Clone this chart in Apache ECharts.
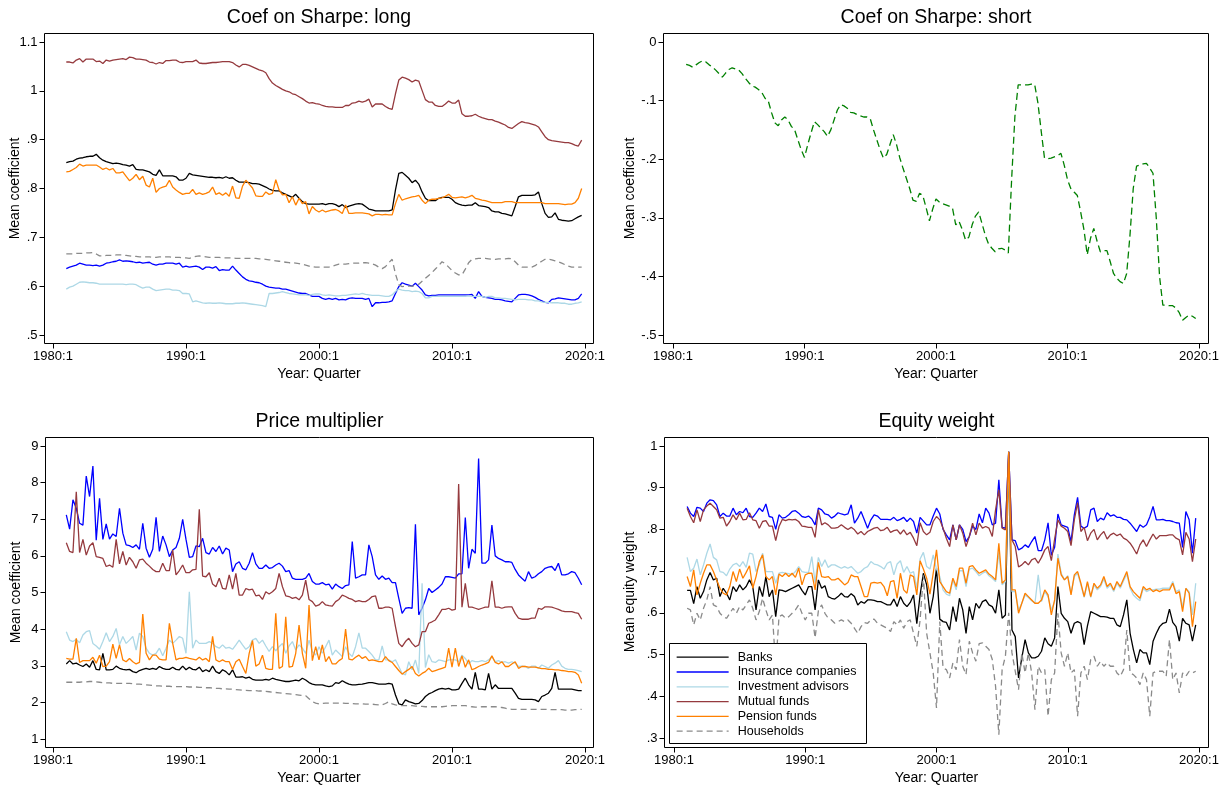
<!DOCTYPE html>
<html><head><meta charset="utf-8">
<script src="https://cdn.jsdelivr.net/npm/echarts@6/dist/echarts.min.js"></script>
<style>html,body{margin:0;padding:0;background:#fff}#c{width:1228px;height:787px}</style>
</head><body><div id="c"></div><script>
// ---------- categories ----------
const quarters = [];
for (let y = 1981; y <= 2019; y++) for (let q = 1; q <= 4; q++) quarters.push(y + (q - 1) / 4);
const xTickYears = [1980, 1990, 2000, 2010, 2020];
const seriesNames = ['Banks', 'Insurance companies', 'Investment advisors', 'Mutual funds', 'Pension funds', 'Households'];
const seriesColors = ['#000000', '#0000ff', '#add8e6', '#953a3e', '#ff8000', '#8a8a8a'];
const panelTitles = ['Coef on Sharpe: long', 'Coef on Sharpe: short', 'Price multiplier', 'Equity weight'];

// ---------- Coef on Sharpe: long ----------
const longBanks = [0.853,0.855,0.856,0.860,0.862,0.863,0.865,0.866,0.866,0.870,0.863,0.858,0.855,0.853,0.851,0.852,0.851,0.849,0.848,0.846,0.849,0.839,0.838,0.838,0.836,0.834,0.829,0.827,0.838,0.826,0.826,0.826,0.826,0.824,0.817,0.817,0.821,0.831,0.828,0.827,0.826,0.825,0.824,0.823,0.823,0.822,0.823,0.821,0.824,0.821,0.822,0.817,0.813,0.813,0.813,0.812,0.810,0.810,0.809,0.806,0.803,0.799,0.796,0.795,0.795,0.791,0.788,0.785,0.782,0.788,0.780,0.773,0.769,0.768,0.768,0.768,
0.768,0.769,0.767,0.769,0.769,0.767,0.763,0.767,0.761,0.764,0.766,0.768,0.769,0.768,0.763,0.758,0.756,0.754,0.754,0.754,0.754,0.754,0.756,0.797,0.831,0.833,0.827,0.821,0.812,0.817,0.809,0.793,0.780,0.775,0.775,0.775,0.780,0.782,0.782,0.782,0.778,0.771,0.768,0.766,0.765,0.766,0.766,0.771,0.765,0.764,0.763,0.761,0.754,0.752,0.752,0.749,0.748,0.746,0.744,0.763,0.783,0.786,0.786,0.786,0.786,0.787,0.793,0.769,0.749,0.741,0.742,0.750,0.737,0.735,0.734,0.733,0.734,0.738,0.742,0.745];
const longInsurance = [0.636,0.639,0.641,0.643,0.647,0.645,0.643,0.643,0.642,0.643,0.641,0.643,0.647,0.648,0.650,0.651,0.654,0.651,0.652,0.651,0.650,0.648,0.649,0.647,0.648,0.649,0.645,0.643,0.645,0.645,0.647,0.647,0.647,0.645,0.647,0.639,0.641,0.639,0.640,0.641,0.639,0.634,0.639,0.639,0.637,0.640,0.632,0.634,0.633,0.633,0.641,0.633,0.626,0.619,0.614,0.611,0.610,0.608,0.607,0.604,0.600,0.598,0.597,0.596,0.596,0.594,0.594,0.592,0.590,0.588,0.586,0.585,0.585,0.582,0.579,0.579,
0.579,0.575,0.573,0.575,0.573,0.575,0.572,0.573,0.572,0.575,0.576,0.575,0.575,0.575,0.573,0.575,0.558,0.566,0.566,0.567,0.567,0.568,0.570,0.585,0.599,0.607,0.604,0.602,0.600,0.606,0.599,0.592,0.582,0.580,0.581,0.581,0.582,0.582,0.582,0.582,0.582,0.582,0.582,0.582,0.582,0.582,0.583,0.575,0.589,0.579,0.577,0.576,0.575,0.573,0.573,0.572,0.570,0.569,0.568,0.575,0.582,0.583,0.583,0.582,0.580,0.577,0.573,0.570,0.567,0.566,0.573,0.574,0.576,0.575,0.574,0.573,0.572,0.572,0.575,0.584];
const longAdvisors = [0.594,0.598,0.600,0.604,0.608,0.609,0.608,0.607,0.607,0.606,0.604,0.604,0.604,0.604,0.604,0.604,0.604,0.604,0.603,0.604,0.604,0.603,0.599,0.596,0.598,0.598,0.594,0.591,0.592,0.593,0.594,0.594,0.592,0.592,0.591,0.585,0.585,0.584,0.568,0.570,0.568,0.566,0.565,0.566,0.565,0.565,0.566,0.565,0.564,0.564,0.564,0.565,0.565,0.566,0.565,0.564,0.563,0.562,0.561,0.560,0.558,0.585,0.585,0.586,0.587,0.589,0.587,0.585,0.584,0.583,0.582,0.582,0.582,0.581,0.583,0.584,
0.584,0.582,0.581,0.582,0.581,0.580,0.580,0.581,0.581,0.582,0.583,0.584,0.583,0.585,0.583,0.582,0.581,0.581,0.581,0.580,0.579,0.579,0.582,0.589,0.594,0.592,0.591,0.591,0.589,0.590,0.589,0.585,0.576,0.576,0.579,0.579,0.579,0.579,0.579,0.579,0.579,0.579,0.579,0.579,0.579,0.580,0.579,0.579,0.579,0.579,0.577,0.579,0.579,0.576,0.576,0.575,0.575,0.574,0.573,0.572,0.573,0.573,0.573,0.572,0.572,0.570,0.570,0.568,0.567,0.567,0.566,0.566,0.566,0.565,0.565,0.563,0.563,0.565,0.566,0.568];
const longMutual = [1.059,1.059,1.057,1.063,1.066,1.059,1.065,1.065,1.065,1.060,1.061,1.056,1.063,1.061,1.063,1.064,1.065,1.066,1.064,1.069,1.068,1.065,1.065,1.064,1.063,1.059,1.058,1.055,1.058,1.056,1.062,1.062,1.063,1.063,1.059,1.058,1.060,1.060,1.060,1.063,1.057,1.056,1.056,1.057,1.058,1.058,1.059,1.060,1.060,1.060,1.058,1.053,1.049,1.054,1.054,1.052,1.049,1.046,1.043,1.041,1.037,1.025,1.016,1.011,1.007,1.003,1.000,0.998,0.994,0.992,0.988,0.984,0.979,0.975,0.976,0.974,
0.973,0.970,0.968,0.967,0.967,0.966,0.966,0.966,0.970,0.970,0.975,0.976,0.979,0.977,0.979,0.983,0.967,0.973,0.973,0.973,0.968,0.964,0.962,0.994,1.022,1.028,1.026,1.023,1.018,1.022,1.020,1.001,0.982,0.977,0.977,0.970,0.968,0.968,0.973,0.979,0.975,0.975,0.981,0.953,0.948,0.948,0.949,0.952,0.948,0.945,0.943,0.941,0.941,0.938,0.936,0.933,0.930,0.925,0.923,0.928,0.933,0.937,0.935,0.934,0.932,0.930,0.926,0.916,0.906,0.900,0.898,0.897,0.896,0.895,0.894,0.894,0.892,0.889,0.887,0.899];
const longPension = [0.834,0.835,0.839,0.843,0.850,0.846,0.848,0.848,0.848,0.848,0.844,0.839,0.842,0.838,0.841,0.832,0.832,0.834,0.825,0.816,0.821,0.829,0.818,0.825,0.807,0.803,0.821,0.792,0.800,0.803,0.805,0.817,0.803,0.797,0.792,0.788,0.790,0.790,0.798,0.788,0.791,0.788,0.790,0.793,0.803,0.788,0.791,0.786,0.791,0.784,0.805,0.781,0.780,0.805,0.817,0.809,0.801,0.785,0.784,0.784,0.793,0.788,0.790,0.818,0.797,0.787,0.788,0.771,0.783,0.766,0.780,0.769,0.773,0.748,0.763,0.756,
0.752,0.756,0.752,0.754,0.756,0.757,0.754,0.749,0.766,0.749,0.749,0.750,0.750,0.750,0.749,0.748,0.744,0.747,0.747,0.746,0.747,0.746,0.746,0.769,0.788,0.776,0.779,0.781,0.783,0.784,0.786,0.776,0.769,0.776,0.778,0.778,0.780,0.781,0.784,0.788,0.782,0.781,0.782,0.783,0.781,0.783,0.786,0.780,0.778,0.776,0.775,0.773,0.771,0.771,0.771,0.771,0.773,0.773,0.773,0.771,0.771,0.771,0.771,0.771,0.771,0.771,0.771,0.771,0.769,0.769,0.769,0.769,0.769,0.768,0.767,0.768,0.768,0.771,0.780,0.800];
const longHouseholds = [0.666,0.666,0.666,0.667,0.667,0.667,0.668,0.668,0.669,0.666,0.662,0.662,0.663,0.663,0.663,0.664,0.664,0.664,0.663,0.662,0.661,0.661,0.660,0.660,0.660,0.660,0.659,0.659,0.660,0.660,0.660,0.660,0.659,0.659,0.659,0.658,0.658,0.657,0.659,0.661,0.662,0.661,0.660,0.659,0.659,0.659,0.659,0.658,0.658,0.658,0.658,0.657,0.657,0.657,0.657,0.657,0.657,0.657,0.656,0.656,0.655,0.654,0.653,0.652,0.651,0.650,0.649,0.648,0.648,0.647,0.646,0.645,0.643,0.641,0.640,0.639,
0.639,0.639,0.639,0.639,0.641,0.643,0.645,0.645,0.645,0.646,0.647,0.647,0.647,0.648,0.648,0.647,0.646,0.643,0.639,0.636,0.640,0.648,0.655,0.625,0.603,0.599,0.600,0.600,0.600,0.601,0.604,0.610,0.616,0.622,0.628,0.635,0.642,0.650,0.646,0.639,0.632,0.627,0.623,0.623,0.635,0.648,0.655,0.656,0.657,0.657,0.657,0.656,0.655,0.655,0.656,0.656,0.656,0.657,0.656,0.650,0.643,0.639,0.639,0.639,0.639,0.642,0.647,0.651,0.655,0.655,0.654,0.652,0.650,0.647,0.644,0.641,0.639,0.639,0.639,0.639];

// ---------- Coef on Sharpe: short ----------
const shortCoef = [-0.038,-0.040,-0.043,-0.039,-0.035,-0.032,-0.034,-0.039,-0.043,-0.048,-0.054,-0.060,-0.053,-0.047,-0.044,-0.046,-0.048,-0.054,-0.062,-0.069,-0.075,-0.077,-0.081,-0.086,-0.096,-0.101,-0.121,-0.138,-0.143,-0.133,-0.128,-0.133,-0.144,-0.150,-0.167,-0.184,-0.197,-0.175,-0.155,-0.136,-0.141,-0.147,-0.153,-0.161,-0.150,-0.133,-0.116,-0.107,-0.109,-0.113,-0.120,-0.121,-0.124,-0.126,-0.128,-0.128,-0.131,-0.150,-0.167,-0.184,-0.198,-0.192,-0.175,-0.158,-0.175,-0.198,-0.216,-0.233,-0.250,-0.270,-0.272,-0.258,-0.262,-0.283,-0.305,-0.285,
-0.268,-0.273,-0.276,-0.278,-0.280,-0.283,-0.312,-0.306,-0.320,-0.338,-0.333,-0.312,-0.297,-0.290,-0.310,-0.330,-0.345,-0.352,-0.358,-0.353,-0.352,-0.355,-0.360,-0.235,-0.127,-0.073,-0.073,-0.073,-0.073,-0.072,-0.072,-0.104,-0.152,-0.198,-0.199,-0.198,-0.196,-0.194,-0.190,-0.210,-0.235,-0.250,-0.256,-0.262,-0.290,-0.320,-0.363,-0.335,-0.318,-0.340,-0.358,-0.356,-0.356,-0.375,-0.395,-0.403,-0.409,-0.412,-0.395,-0.330,-0.250,-0.212,-0.210,-0.208,-0.207,-0.215,-0.224,-0.300,-0.400,-0.449,-0.449,-0.450,-0.450,-0.454,-0.462,-0.475,-0.470,-0.466,-0.468,-0.472];

// ---------- Price multiplier ----------
const priceBanks = [3.05,3.14,3.05,3.07,3.02,2.98,3.05,2.96,3.14,2.90,2.89,3.34,2.89,2.89,2.90,2.99,2.93,2.90,2.89,2.90,2.84,2.81,2.87,2.90,2.93,2.90,2.93,2.90,2.98,2.93,2.90,2.90,2.96,2.90,2.89,2.99,2.89,2.96,2.90,2.89,2.96,2.84,2.89,2.84,2.99,2.84,2.79,2.89,2.84,2.75,2.89,2.69,2.69,2.70,2.66,2.69,2.63,2.61,2.61,2.61,2.63,2.61,2.66,2.63,2.61,2.59,2.57,2.57,2.59,2.61,2.59,2.66,2.61,2.54,2.50,2.48,
2.48,2.48,2.45,2.43,2.45,2.54,2.52,2.59,2.54,2.50,2.48,2.48,2.49,2.50,2.52,2.54,2.54,2.52,2.50,2.50,2.50,2.52,2.50,2.20,1.96,1.93,2.07,2.02,1.99,1.96,1.97,2.05,2.16,2.23,2.27,2.32,2.36,2.38,2.36,2.38,2.34,2.34,2.36,2.52,2.66,2.48,2.36,2.82,2.36,2.36,2.34,2.79,2.36,2.48,2.38,2.38,2.38,2.38,2.38,2.25,2.11,2.08,2.08,2.08,2.08,2.07,2.02,2.16,2.20,2.25,2.38,2.82,2.36,2.36,2.36,2.36,2.36,2.34,2.32,2.32];
const priceInsurance = [7.12,6.73,7.53,7.30,6.89,6.84,8.18,7.62,8.45,6.43,7.57,6.45,6.87,6.46,6.60,6.53,7.30,6.62,6.30,6.28,6.23,6.30,6.18,6.89,6.21,5.96,6.18,7.05,6.12,6.54,6.30,5.98,6.16,6.23,6.48,7.00,6.45,5.96,5.98,6.27,6.25,6.48,6.09,6.05,6.23,6.12,6.27,6.05,6.21,6.16,5.57,5.78,5.84,5.66,5.62,5.80,6.09,5.78,5.66,5.66,5.75,5.66,5.68,5.75,5.80,5.72,5.57,5.60,5.39,5.36,5.36,5.36,5.39,5.52,5.30,5.23,
5.23,5.27,5.21,5.23,5.09,5.23,5.16,5.11,5.19,5.21,6.39,5.39,5.43,5.48,5.48,6.30,5.98,5.48,5.36,5.45,5.36,5.39,5.27,5.27,4.84,4.43,4.57,4.59,4.57,6.86,4.39,4.57,4.80,5.11,5.00,5.07,5.14,5.23,5.43,5.43,5.41,5.39,5.51,5.51,7.05,5.66,6.18,6.07,8.66,5.80,5.80,5.89,6.84,6.00,5.93,5.89,5.84,5.84,5.82,5.63,5.48,5.39,5.31,5.57,5.39,5.43,5.51,5.57,5.66,5.69,5.71,5.60,5.80,5.48,5.48,5.51,5.57,5.54,5.39,5.21];
const priceAdvisors = [3.93,3.70,3.66,3.72,3.63,3.84,3.93,3.96,3.61,3.54,3.45,3.66,3.90,3.66,3.80,4.02,3.57,3.80,3.61,3.70,3.80,3.43,3.89,3.80,3.48,3.34,3.29,3.34,3.48,3.27,3.48,3.70,3.61,3.70,3.80,3.75,3.34,5.02,3.48,3.70,3.61,3.61,3.61,3.66,3.61,3.52,3.48,3.57,3.48,3.50,3.45,3.57,3.70,3.57,3.45,3.52,3.70,3.75,3.61,3.70,3.54,3.39,3.52,3.41,3.52,3.61,3.34,3.54,3.66,3.43,3.57,3.48,3.34,3.70,3.39,3.29,
3.52,3.34,3.52,3.70,3.29,3.43,3.34,3.25,3.52,3.34,3.25,3.52,3.90,3.48,3.48,3.39,3.29,3.16,3.16,3.54,3.16,3.16,3.11,3.16,2.98,2.79,2.75,3.11,2.89,3.16,2.79,5.25,2.95,3.30,3.11,3.09,3.16,3.14,3.11,3.16,3.16,3.16,3.11,3.29,3.20,3.05,3.14,3.11,3.11,3.14,3.11,3.16,3.25,3.11,3.14,3.09,3.11,3.07,3.11,3.07,2.98,2.99,2.98,2.93,2.99,2.99,2.93,3.02,2.98,2.93,3.02,3.07,3.14,2.99,2.93,2.90,2.90,2.89,2.87,2.84];
const priceMutual = [6.36,6.12,6.09,7.75,6.09,6.45,6.02,6.27,6.36,5.98,5.96,5.93,5.71,5.75,5.69,6.45,5.78,6.12,5.75,5.96,5.84,5.66,5.89,5.91,5.80,5.72,5.63,5.57,5.57,5.80,5.60,5.60,6.16,5.48,5.60,5.75,5.54,5.54,5.62,5.63,7.27,5.45,5.43,5.54,5.23,5.16,5.39,5.11,5.09,5.48,5.09,5.52,4.93,4.93,5.11,5.07,5.09,4.91,4.93,4.81,5.02,4.96,5.02,5.11,5.52,5.16,4.91,4.89,4.84,4.87,4.80,4.93,5.34,4.81,4.75,4.63,
4.66,4.75,4.66,4.64,4.63,4.75,4.81,4.93,4.89,4.84,4.81,4.75,4.78,4.75,4.75,4.81,4.89,4.91,4.57,4.57,4.60,4.60,4.57,4.07,3.61,3.52,3.66,3.75,3.61,3.52,3.57,3.93,3.93,4.16,4.20,4.25,4.39,4.54,4.54,4.57,4.52,4.54,7.96,4.60,5.25,4.60,4.60,4.57,4.54,4.57,4.60,4.60,5.32,4.60,4.60,4.57,4.60,4.61,4.61,4.43,4.30,4.27,4.27,4.27,4.30,4.30,4.57,4.54,4.61,4.61,4.60,4.57,4.54,4.50,4.48,4.48,4.48,4.45,4.43,4.27];
const pricePension = [3.20,3.18,3.18,3.75,3.09,3.14,3.14,3.14,3.23,3.07,3.29,2.98,2.99,3.11,3.59,3.20,3.57,3.16,3.11,3.20,3.11,3.05,3.09,4.41,3.34,3.16,3.29,3.29,3.18,3.16,3.16,4.16,3.61,3.16,3.20,3.20,3.23,3.20,3.18,3.16,3.23,3.16,3.20,3.11,3.80,3.16,3.11,3.16,3.11,3.11,2.90,3.11,3.18,2.98,2.79,3.34,3.69,2.99,3.05,3.29,2.93,2.90,2.90,4.43,2.93,2.98,4.34,2.96,2.98,3.34,4.11,3.34,2.93,4.66,3.14,3.52,
3.16,3.57,3.11,3.25,3.05,3.05,3.14,3.20,4.00,3.18,3.16,3.23,3.29,3.20,3.25,3.14,3.16,3.14,3.11,3.11,3.25,3.14,3.09,2.98,2.87,2.77,2.84,2.90,2.98,2.79,2.72,2.79,2.84,2.93,2.84,2.87,2.90,2.93,2.96,3.48,2.96,3.48,2.98,3.27,2.96,3.16,2.89,2.93,2.98,3.02,3.05,3.09,3.27,3.09,3.05,3.11,2.98,2.98,3.05,3.11,2.93,2.98,2.98,2.96,2.96,2.96,2.94,2.92,2.92,2.90,2.90,2.89,2.89,2.87,2.86,2.84,2.84,2.82,2.75,2.52];
const priceHouseholds = [2.55,2.55,2.55,2.55,2.55,2.56,2.56,2.57,2.57,2.56,2.55,2.54,2.53,2.53,2.52,2.52,2.52,2.52,2.52,2.52,2.51,2.50,2.50,2.49,2.48,2.47,2.46,2.45,2.45,2.44,2.44,2.44,2.43,2.43,2.43,2.43,2.43,2.42,2.42,2.42,2.41,2.41,2.40,2.40,2.39,2.38,2.38,2.37,2.37,2.36,2.36,2.35,2.34,2.33,2.33,2.32,2.32,2.32,2.31,2.31,2.30,2.29,2.28,2.27,2.26,2.25,2.24,2.23,2.22,2.21,2.20,2.19,2.18,2.10,2.02,1.98,
1.96,1.97,1.98,1.98,1.98,1.98,1.98,1.98,1.97,1.97,1.97,1.96,1.96,1.96,1.95,1.95,1.95,1.94,1.93,1.93,1.97,2.02,1.96,1.93,1.92,1.91,1.91,1.91,1.91,1.90,1.90,1.89,1.88,1.88,1.88,1.88,1.88,1.88,1.89,1.90,1.91,1.91,1.91,1.91,1.91,1.90,1.88,1.87,1.87,1.88,1.88,1.88,1.88,1.88,1.87,1.86,1.84,1.82,1.81,1.81,1.81,1.81,1.81,1.81,1.81,1.81,1.81,1.81,1.81,1.81,1.80,1.80,1.80,1.80,1.79,1.79,1.79,1.80,1.80,1.81];

// ---------- Equity weight ----------
const equityBanks = [0.654,0.654,0.622,0.663,0.635,0.651,0.679,0.697,0.679,0.683,0.639,0.659,0.647,0.631,0.663,0.651,0.667,0.655,0.663,0.679,0.663,0.607,0.663,0.639,0.687,0.639,0.655,0.591,0.655,0.654,0.651,0.655,0.659,0.663,0.667,0.654,0.643,0.663,0.663,0.607,0.679,0.659,0.665,0.639,0.635,0.633,0.639,0.647,0.639,0.638,0.646,0.639,0.619,0.627,0.623,0.631,0.631,0.630,0.627,0.627,0.623,0.619,0.619,0.633,0.615,0.639,0.623,0.615,0.625,0.643,0.574,0.643,0.695,0.667,0.599,0.639,
0.707,0.585,0.579,0.577,0.559,0.615,0.579,0.635,0.607,0.551,0.615,0.583,0.623,0.611,0.627,0.631,0.619,0.615,0.599,0.655,0.587,0.595,0.986,0.559,0.543,0.444,0.492,0.536,0.504,0.492,0.492,0.496,0.508,0.540,0.526,0.520,0.540,0.663,0.599,0.587,0.579,0.551,0.575,0.579,0.575,0.524,0.569,0.603,0.599,0.595,0.591,0.591,0.590,0.587,0.587,0.571,0.567,0.595,0.631,0.551,0.512,0.480,0.512,0.504,0.504,0.476,0.532,0.551,0.567,0.575,0.577,0.609,0.577,0.567,0.532,0.587,0.575,0.571,0.532,0.571];
const equityInsurance = [0.855,0.839,0.831,0.853,0.851,0.843,0.863,0.871,0.869,0.859,0.831,0.839,0.832,0.832,0.851,0.835,0.843,0.840,0.851,0.831,0.829,0.839,0.851,0.843,0.861,0.831,0.829,0.800,0.835,0.827,0.829,0.835,0.843,0.845,0.839,0.831,0.829,0.832,0.825,0.811,0.851,0.847,0.837,0.835,0.827,0.832,0.840,0.837,0.835,0.837,0.859,0.815,0.827,0.843,0.823,0.803,0.823,0.835,0.832,0.824,0.824,0.824,0.823,0.829,0.821,0.824,0.829,0.819,0.827,0.819,0.791,0.829,0.820,0.811,0.811,0.832,
0.851,0.837,0.800,0.787,0.775,0.811,0.775,0.811,0.800,0.771,0.783,0.808,0.800,0.837,0.816,0.851,0.839,0.811,0.815,0.919,0.805,0.803,0.986,0.775,0.773,0.751,0.755,0.763,0.757,0.771,0.783,0.749,0.749,0.775,0.816,0.738,0.757,0.837,0.811,0.808,0.805,0.771,0.835,0.877,0.808,0.803,0.808,0.847,0.851,0.819,0.827,0.823,0.840,0.832,0.835,0.829,0.829,0.824,0.823,0.815,0.805,0.795,0.811,0.805,0.811,0.830,0.855,0.823,0.823,0.824,0.821,0.821,0.819,0.816,0.815,0.757,0.843,0.823,0.743,0.827];
const equityAdvisors = [0.733,0.699,0.707,0.729,0.691,0.715,0.743,0.765,0.733,0.727,0.699,0.697,0.689,0.705,0.715,0.719,0.711,0.723,0.709,0.743,0.741,0.699,0.715,0.743,0.699,0.699,0.699,0.671,0.695,0.697,0.695,0.694,0.691,0.699,0.711,0.699,0.697,0.697,0.735,0.673,0.733,0.711,0.727,0.709,0.715,0.715,0.711,0.707,0.711,0.707,0.711,0.703,0.695,0.699,0.707,0.711,0.723,0.717,0.715,0.711,0.705,0.719,0.723,0.691,0.717,0.725,0.697,0.711,0.695,0.699,0.659,0.729,0.745,0.711,0.705,0.739,
0.705,0.687,0.655,0.645,0.641,0.679,0.655,0.701,0.701,0.663,0.705,0.707,0.699,0.689,0.695,0.699,0.689,0.683,0.675,0.745,0.667,0.675,0.970,0.651,0.651,0.607,0.623,0.643,0.637,0.629,0.623,0.691,0.627,0.651,0.639,0.607,0.627,0.741,0.695,0.679,0.689,0.647,0.687,0.695,0.667,0.637,0.671,0.637,0.667,0.655,0.663,0.681,0.659,0.667,0.651,0.671,0.659,0.677,0.693,0.659,0.643,0.635,0.629,0.659,0.651,0.655,0.655,0.657,0.657,0.659,0.659,0.659,0.675,0.651,0.655,0.613,0.659,0.651,0.595,0.671];
const equityMutual = [0.851,0.831,0.816,0.847,0.819,0.847,0.856,0.863,0.855,0.847,0.827,0.829,0.808,0.819,0.835,0.823,0.839,0.823,0.824,0.840,0.823,0.821,0.803,0.819,0.821,0.808,0.808,0.773,0.807,0.824,0.821,0.824,0.823,0.824,0.819,0.808,0.807,0.805,0.805,0.781,0.847,0.811,0.816,0.811,0.803,0.803,0.805,0.811,0.805,0.800,0.805,0.799,0.789,0.795,0.787,0.795,0.799,0.803,0.805,0.797,0.799,0.805,0.793,0.797,0.799,0.789,0.799,0.787,0.793,0.779,0.761,0.816,0.795,0.787,0.793,0.819,
0.831,0.823,0.803,0.779,0.759,0.811,0.775,0.811,0.791,0.759,0.783,0.815,0.787,0.815,0.803,0.807,0.803,0.783,0.847,0.895,0.803,0.799,0.986,0.775,0.759,0.710,0.715,0.723,0.715,0.727,0.731,0.719,0.733,0.751,0.759,0.725,0.777,0.823,0.808,0.803,0.795,0.761,0.823,0.864,0.795,0.805,0.773,0.791,0.800,0.775,0.787,0.795,0.777,0.787,0.791,0.785,0.789,0.779,0.775,0.767,0.755,0.741,0.763,0.775,0.759,0.775,0.789,0.777,0.785,0.785,0.785,0.787,0.787,0.779,0.775,0.739,0.793,0.777,0.723,0.777];
const equityPension = [0.687,0.663,0.703,0.643,0.671,0.695,0.715,0.715,0.699,0.679,0.659,0.647,0.643,0.663,0.699,0.675,0.705,0.683,0.697,0.713,0.659,0.687,0.723,0.739,0.687,0.679,0.687,0.643,0.693,0.687,0.695,0.687,0.695,0.685,0.707,0.667,0.691,0.695,0.695,0.655,0.721,0.687,0.685,0.687,0.679,0.679,0.683,0.675,0.667,0.673,0.691,0.687,0.687,0.663,0.639,0.639,0.671,0.673,0.671,0.673,0.663,0.641,0.675,0.677,0.635,0.695,0.655,0.647,0.691,0.687,0.643,0.725,0.705,0.683,0.645,0.695,
0.751,0.675,0.663,0.651,0.647,0.683,0.663,0.707,0.707,0.671,0.711,0.713,0.703,0.695,0.699,0.703,0.693,0.687,0.679,0.767,0.671,0.679,0.986,0.655,0.655,0.599,0.623,0.647,0.639,0.631,0.623,0.623,0.631,0.655,0.643,0.595,0.631,0.731,0.691,0.679,0.687,0.643,0.691,0.699,0.671,0.639,0.675,0.639,0.671,0.659,0.667,0.687,0.663,0.671,0.655,0.675,0.663,0.681,0.699,0.663,0.651,0.643,0.635,0.663,0.655,0.659,0.651,0.655,0.651,0.655,0.655,0.655,0.671,0.646,0.651,0.603,0.659,0.647,0.567,0.627];
const equityHouseholds = [0.611,0.607,0.571,0.599,0.583,0.611,0.631,0.663,0.619,0.615,0.599,0.591,0.587,0.599,0.611,0.599,0.615,0.607,0.619,0.631,0.611,0.583,0.603,0.635,0.607,0.583,0.595,0.470,0.591,0.595,0.587,0.591,0.599,0.607,0.619,0.599,0.583,0.599,0.599,0.540,0.605,0.619,0.599,0.587,0.583,0.575,0.579,0.583,0.579,0.583,0.575,0.563,0.551,0.567,0.577,0.575,0.583,0.585,0.575,0.571,0.567,0.563,0.555,0.579,0.571,0.583,0.563,0.579,0.583,0.551,0.520,0.583,0.690,0.551,0.504,0.456,
0.372,0.579,0.468,0.464,0.444,0.480,0.464,0.536,0.472,0.452,0.532,0.504,0.484,0.526,0.528,0.520,0.512,0.488,0.424,0.308,0.464,0.496,0.600,0.504,0.460,0.416,0.504,0.456,0.504,0.456,0.368,0.472,0.456,0.464,0.352,0.440,0.456,0.599,0.504,0.472,0.504,0.456,0.464,0.352,0.456,0.472,0.440,0.488,0.496,0.472,0.484,0.472,0.480,0.472,0.472,0.456,0.448,0.464,0.559,0.456,0.452,0.444,0.428,0.456,0.440,0.352,0.456,0.460,0.460,0.460,0.448,0.536,0.440,0.456,0.408,0.456,0.448,0.460,0.456,0.460];

// ---------- layout ----------
const FONT = '"Liberation Sans", Arial, Helvetica, sans-serif';
const panels = [
  { frame: [44.5, 33.5, 593.5, 343.5], grid: { left: 53, top: 42, width: 532, height: 293 }, y: { min: 0.5, max: 1.1, interval: 0.1 }, yName: 'Mean coefficient', yGap: 22, titleY: 18,
    lines: [longBanks, longInsurance, longAdvisors, longMutual, longPension, longHouseholds] },
  { frame: [663.5, 33.5, 1208.5, 343.5], grid: { left: 673, top: 42, width: 526, height: 293 }, y: { min: -0.5, max: 0, interval: 0.1 }, yName: 'Mean coefficient', yGap: 26, titleY: 18,
    lines: null },
  { frame: [45.5, 437.5, 593.5, 747.5], grid: { left: 53, top: 446, width: 532, height: 293 }, y: { min: 1, max: 9, interval: 1 }, yName: 'Mean coefficient', yGap: 22, titleY: 422,
    lines: [priceBanks, priceInsurance, priceAdvisors, priceMutual, pricePension, priceHouseholds] },
  { frame: [664.5, 437.5, 1208.5, 747.5], grid: { left: 674, top: 446, width: 525, height: 292 }, y: { min: 0.3, max: 1, interval: 0.1 }, yName: 'Mean equity weight', yGap: 27, titleY: 422,
    lines: [equityBanks, equityInsurance, equityAdvisors, equityMutual, equityPension, equityHouseholds] }
];

function stataNum(v) {
  const r = Math.round(v * 1000) / 1000;
  return String(r).replace(/^0\./, '.').replace(/^-0\./, '-.');
}
function pairs(values) {
  return values.slice(0, quarters.length).map((v, i) => [quarters[i], v]);
}

const grids = [], xAxes = [], yAxes = [], series = [], graphics = [];
panels.forEach((p, i) => {
  grids.push(Object.assign({ containLabel: false }, p.grid));
  const gBottom = p.grid.top + p.grid.height;
  xAxes.push({
    type: 'value', gridIndex: i, min: 1980, max: 2020, interval: 10, position: 'bottom',
    offset: p.frame[3] - gBottom,
    axisLine: { show: false, onZero: false }, splitLine: { show: false },
    axisTick: { show: true, length: 5, lineStyle: { color: '#000', width: 1 } },
    axisLabel: { show: true, margin: 6, color: '#000', fontSize: 13, fontFamily: FONT, formatter: v => v + ':1', showMinLabel: true, showMaxLabel: true },
    name: 'Year: Quarter', nameLocation: 'middle', nameGap: 24, nameMoveOverlap: false,
    nameTextStyle: { color: '#000', fontSize: 14, fontFamily: FONT }
  });
  yAxes.push({
    type: 'value', gridIndex: i, min: p.y.min, max: p.y.max, interval: p.y.interval, position: 'left',
    offset: p.grid.left - p.frame[0],
    axisLine: { show: false, onZero: false }, splitLine: { show: false },
    axisTick: { show: true, length: 5, lineStyle: { color: '#000', width: 1 } },
    axisLabel: { show: true, margin: 7, color: '#000', fontSize: 13, fontFamily: FONT, formatter: stataNum, showMinLabel: true, showMaxLabel: true },
    name: p.yName, nameLocation: 'middle', nameGap: p.yGap, nameRotate: 90, nameMoveOverlap: false,
    nameTextStyle: { color: '#000', fontSize: 14, fontFamily: FONT }
  });
  graphics.push({
    type: 'rect', z: 40, silent: true,
    shape: { x: p.frame[0], y: p.frame[1], width: p.frame[2] - p.frame[0], height: p.frame[3] - p.frame[1] },
    style: { fill: 'none', stroke: '#000', lineWidth: 1 }
  });
  graphics.push({
    type: 'text', z: 40, silent: true, x: (p.frame[0] + p.frame[2]) / 2, y: p.titleY,
    style: { text: panelTitles[i], fill: '#000', fontSize: 19.5, fontFamily: FONT, textAlign: 'center', textVerticalAlign: 'middle' }
  });
  if (p.lines) {
    p.lines.forEach((vals, s) => {
      const dashed = s === 5;
      series.push({
        name: seriesNames[s], type: 'line', xAxisIndex: i, yAxisIndex: i,
        data: pairs(vals), symbol: 'none', showSymbol: false, silent: true, z: 2,
        lineStyle: { color: seriesColors[s], width: 1.3, type: dashed ? [6, 4] : 'solid' },
        itemStyle: { color: seriesColors[s] }
      });
    });
  } else {
    series.push({
      name: 'Short coefficient', type: 'line', xAxisIndex: i, yAxisIndex: i,
      data: pairs(shortCoef), symbol: 'none', showSymbol: false, silent: true, z: 2,
      lineStyle: { color: '#008000', width: 1.3, type: [7, 4] }, itemStyle: { color: '#008000' }
    });
  }
});

// legend box (white, over the lines)
graphics.push({
  type: 'rect', z: 50, silent: true,
  shape: { x: 669.5, y: 643.5, width: 197, height: 100 },
  style: { fill: '#fff', stroke: '#000', lineWidth: 1 }
});

const chart = echarts.init(document.getElementById('c'), null, { renderer: 'canvas' });
chart.setOption({
  animation: false,
  backgroundColor: '#fff',
  grid: grids, xAxis: xAxes, yAxis: yAxes, series: series,
  graphic: { elements: graphics },
  legend: {
    data: seriesNames, orient: 'vertical', left: 676, top: 650, padding: 0,
    itemWidth: 52, itemHeight: 10, itemGap: 0.4, selectedMode: false, z: 60,
    itemStyle: { color: 'rgba(0,0,0,0)', borderColor: 'rgba(0,0,0,0)', borderWidth: 0, opacity: 0 },
    lineStyle: { width: 1.3 },
    textStyle: { color: '#000', fontSize: 12.5, fontFamily: FONT, lineHeight: 14.4, padding: [0, 0, 0, 4] }
  }
});
</script></body></html>
